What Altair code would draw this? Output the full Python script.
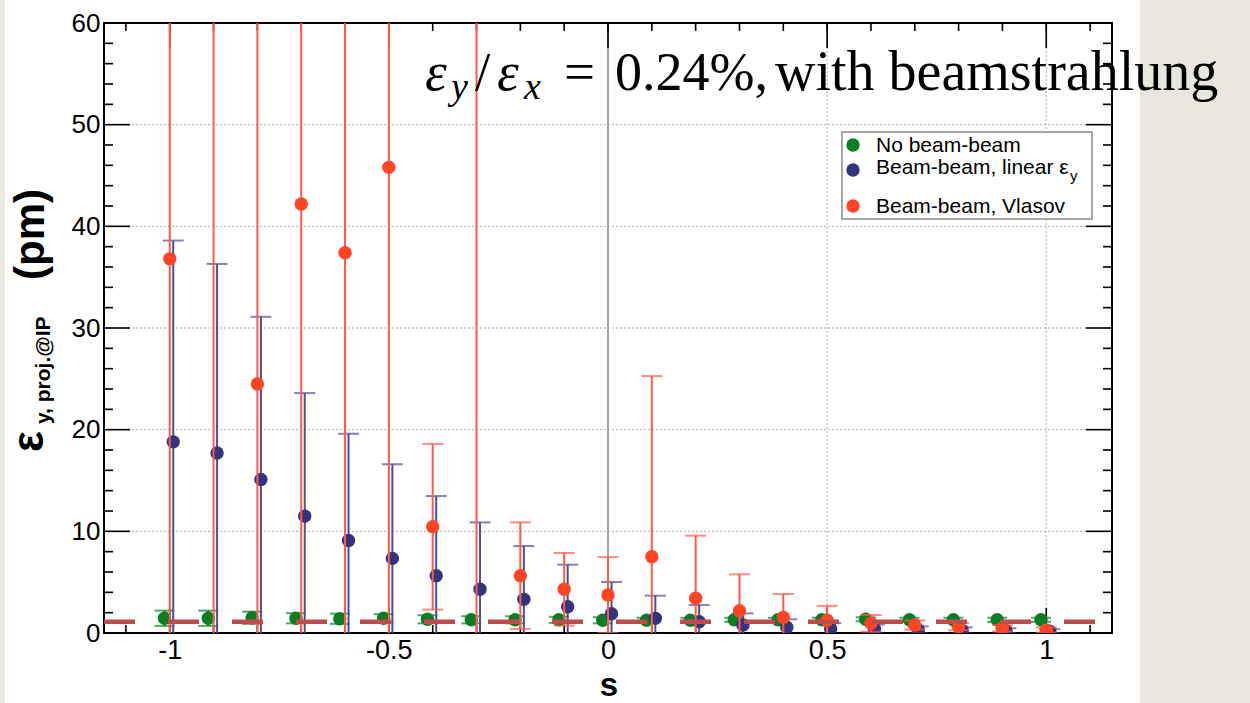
import altair as alt
import pandas as pd

# Chromaticity scan: s values and projected vertical emittance at the IP (pm)
s_values = [-1.0, -0.9, -0.8, -0.7, -0.6, -0.5, -0.4, -0.3, -0.2, -0.1, 0.0,
            0.1, 0.2, 0.3, 0.4, 0.5, 0.6, 0.7, 0.8, 0.9, 1.0]

no_bb = [1.45, 1.45, 1.5, 1.45, 1.4, 1.45, 1.35, 1.3, 1.3, 1.3, 1.25,
         1.25, 1.25, 1.3, 1.3, 1.3, 1.35, 1.3, 1.3, 1.3, 1.3]
no_bb_err = [0.75, 0.75, 0.6, 0.5, 0.5, 0.4, 0.4, 0.35, 0.35, 0.3, 0.3,
             0.25, 0.25, 0.2, 0.2, 0.2, 0.2, 0.2, 0.2, 0.2, 0.2]

linear = [18.8, 17.7, 15.1, 11.5, 9.1, 7.34, 5.64, 4.3, 3.31, 2.59, 1.9,
          1.44, 1.11, 0.79, 0.56, 0.42, 0.38, 0.30, 0.26, 0.22, 0.18]
linear_err = [19.8, 18.6, 16.0, 12.1, 10.5, 9.26, 7.83, 6.58, 5.24, 4.13, 3.11,
              2.23, 1.64, 1.14, 0.79, 0.55, 0.45, 0.35, 0.30, 0.25, 0.20]

vlasov = [36.8, 68.0, 24.5, 42.2, 37.4, 45.8, 10.45, 66.0, 5.64, 4.3, 3.74,
          7.5, 3.41, 2.2, 1.54, 1.25, 0.95, 0.79, 0.62, 0.46, 0.30]
vlasov_err = [45.0, 70.0, 40.0, 48.0, 42.0, 50.0, 8.15, 75.0, 5.24, 3.57, 3.73,
              17.77, 6.16, 3.57, 2.29, 1.42, 0.82, 0.45, 0.35, 0.30, 0.25]

reference_level = 1.1

x_major = [-1.0, -0.5, 0.0, 0.5, 1.0]
x_minor = [-1.1, -1.0, -0.9, -0.8, -0.7, -0.6, -0.5, -0.4, -0.3, -0.2, -0.1, 0.0,
           0.1, 0.2, 0.3, 0.4, 0.5, 0.6, 0.7, 0.8, 0.9, 1.0, 1.1]
y_major = [10, 20, 30, 40, 50]
y_minor = [2, 4, 6, 8, 12, 14, 16, 18, 22, 24, 26, 28, 32, 34, 36, 38,
           42, 44, 46, 48, 52, 54, 56, 58]
y_labels = [0, 10, 20, 30, 40, 50, 60]

W, H = 1008, 610
LEFT, TOP = 104, 23

xs = alt.Scale(domain=[-1.15, 1.15], nice=False, zero=False)
ys = alt.Scale(domain=[0, 60], nice=False, zero=False)
x_axis = alt.Axis(values=x_major, labelExpr="'' + datum.value", title=None,
                  grid=False, ticks=False, domain=False, labelFont="Liberation Sans",
                  labelFontSize=27, labelColor="black", labelPadding=4,
                  labelOverlap=False, labelFlush=False)
y_axis = alt.Axis(values=y_labels, title=None, grid=False, ticks=False, domain=False,
                  labelFont="Liberation Sans", labelFontSize=26, labelColor="black",
                  labelPadding=4, labelOverlap=False)


def X(field="s"):
    return alt.X(f"{field}:Q", scale=xs, axis=x_axis)


def Y(field="v"):
    return alt.Y(f"{field}:Q", scale=ys, axis=y_axis)


def series_layers(vals, errs, dx, dot_color, bar_color, cap):
    df = pd.DataFrame({"s": s_values, "v": vals, "e": errs})
    df["s"] = df["s"] + dx
    df["lo"] = df["v"] - df["e"]
    df["hi"] = df["v"] + df["e"]
    base = alt.Chart(df)
    bars = base.mark_rule(color=bar_color, strokeWidth=2, clip=True).encode(
        x=X(), y=Y("lo"), y2="hi:Q")
    lo_cap = base.mark_tick(color=bar_color, orient="horizontal", size=cap,
                            thickness=2, clip=True).encode(x=X(), y=Y("lo"))
    hi_cap = base.mark_tick(color=bar_color, orient="horizontal", size=cap,
                            thickness=2, clip=True).encode(x=X(), y=Y("hi"))
    dots = base.mark_circle(color=dot_color, size=180, opacity=1, clip=True).encode(
        x=X(), y=Y())
    return [bars, lo_cap, hi_cap, dots]


def text_piece(txt, px, py, size, font="Liberation Sans", baseline="alphabetic", **kw):
    return alt.Chart(pd.DataFrame({"t": [txt]})).mark_text(
        align="left", baseline=baseline, font=font, fontSize=size,
        color="black", **kw).encode(
        x=alt.value(px - LEFT), y=alt.value(py - TOP), text="t:N")


one = pd.DataFrame({"k": [0]})

# slide background strips
paper_right = alt.Chart(one).mark_rect(color="#e9e6df").encode(
    x=alt.value(1140 - LEFT), x2=alt.value(1250 - LEFT + 2),
    y=alt.value(-TOP), y2=alt.value(703 - TOP))
paper_left = alt.Chart(one).mark_rect(color="#ece9e2").encode(
    x=alt.value(-LEFT), x2=alt.value(5 - LEFT),
    y=alt.value(-TOP), y2=alt.value(703 - TOP))

# grid
grid_x = alt.Chart(pd.DataFrame({"s": [-1.0, -0.5, 0.5, 1.0]})).mark_rule(
    color="#ababab", strokeWidth=1, strokeDash=[2, 2]).encode(
    x=X(), y=alt.value(0), y2=alt.value(H))
grid_y = alt.Chart(pd.DataFrame({"v": y_major})).mark_rule(
    color="#ababab", strokeWidth=1, strokeDash=[2, 2]).encode(
    y=Y(), x=alt.value(0), x2=alt.value(W))
zero_line = alt.Chart(pd.DataFrame({"s": [0.0]})).mark_rule(
    color="#a8a8a8", strokeWidth=2).encode(x=X(), y=alt.value(0), y2=alt.value(H))

# inward ticks on all four sides
xmin_df = alt.Chart(pd.DataFrame({"s": x_minor}))
xmaj_df = alt.Chart(pd.DataFrame({"s": x_major}))
ymin_df = alt.Chart(pd.DataFrame({"v": y_minor}))
ymaj_df = alt.Chart(pd.DataFrame({"v": y_major}))
tick_style = dict(color="black", strokeWidth=1.6)
ticks = [
    xmin_df.mark_rule(**tick_style).encode(x=X(), y=alt.value(H), y2=alt.value(H - 8)),
    xmin_df.mark_rule(**tick_style).encode(x=X(), y=alt.value(0), y2=alt.value(8)),
    xmaj_df.mark_rule(**tick_style).encode(x=X(), y=alt.value(H), y2=alt.value(H - 25)),
    xmaj_df.mark_rule(**tick_style).encode(x=X(), y=alt.value(0), y2=alt.value(25)),
    ymin_df.mark_rule(**tick_style).encode(y=Y(), x=alt.value(0), x2=alt.value(9)),
    ymin_df.mark_rule(**tick_style).encode(y=Y(), x=alt.value(W - 9), x2=alt.value(W)),
    ymaj_df.mark_rule(**tick_style).encode(y=Y(), x=alt.value(0), x2=alt.value(26)),
    ymaj_df.mark_rule(**tick_style).encode(y=Y(), x=alt.value(W - 26), x2=alt.value(W)),
]

GREEN, BLUE, BLUE_BAR, RED, RED_BAR = "#0b7d24", "#34347c", "#4e4e96", "#ff4526", "#ff5a48"

green = series_layers(no_bb, no_bb_err, -0.012, GREEN, GREEN, 20)
blue = series_layers(linear, linear_err, 0.008, BLUE, BLUE_BAR, 21)
red = series_layers(vlasov, vlasov_err, 0.0, RED, RED_BAR, 21)

dash = alt.Chart(pd.DataFrame({"v": [reference_level]})).mark_rule(
    color="#bd4d4d", strokeWidth=4.5, strokeDash=[31, 33]).encode(
    y=Y(), x=alt.value(0), x2=alt.value(W))

# legend box
legend_box = alt.Chart(one).mark_rect(fill="white", stroke="#8a8a8a", strokeWidth=1.5).encode(
    x=alt.value(842 - LEFT), x2=alt.value(1092 - LEFT),
    y=alt.value(132 - TOP), y2=alt.value(219 - TOP))


def legend_dot(color, py):
    return alt.Chart(one).mark_circle(color=color, size=180, opacity=1).encode(
        x=alt.value(853 - LEFT), y=alt.value(py - TOP))


legend = [
    legend_box,
    legend_dot(GREEN, 145), legend_dot(BLUE, 170), legend_dot(RED, 206),
    text_piece("No beam-beam", 876, 152, 21),
    text_piece("Beam-beam, linear ε", 876, 174, 21),
    text_piece("y", 1070, 181, 15),
    text_piece("Beam-beam, Vlasov", 876, 213, 21),
]

# formula annotation
SERIF = "Liberation Serif"
note = [
    text_piece("ε", 425, 90, 55, SERIF, fontStyle="italic"),
    text_piece("y", 451, 99, 38, SERIF, fontStyle="italic"),
    text_piece("/", 475, 90, 55, SERIF),
    text_piece("ε", 497, 90, 55, SERIF, fontStyle="italic"),
    text_piece("x", 524, 99, 38, SERIF, fontStyle="italic"),
    text_piece("=", 564, 90, 55, SERIF),
    text_piece("0.24%,", 615, 90, 54, SERIF),
    text_piece("with beamstrahlung", 775, 90, 56, SERIF),
]

# axis titles
titles = [
    text_piece("ε", 43, 452, 44, angle=270, fontWeight="bold"),
    text_piece("y, proj.@IP", 50, 424, 21, angle=270, fontWeight="bold"),
    text_piece("(pm)", 44, 280, 42, angle=270, fontWeight="bold"),
    alt.Chart(pd.DataFrame({"t": ["s"]})).mark_text(
        align="center", baseline="bottom", font="Liberation Sans", fontSize=33,
        fontWeight="bold", color="black").encode(
        x=alt.value(609 - LEFT), y=alt.value(703 - TOP), text="t:N"),
]

layers = ([paper_right, paper_left, grid_x, grid_y, zero_line] + ticks
          + green + blue + red + [dash] + legend + note + titles)

chart = alt.layer(*layers).properties(
    width=W, height=H,
    padding={"left": LEFT, "top": TOP, "right": 1250 - LEFT - W, "bottom": 703 - TOP - H},
    autosize=alt.AutoSizeParams(type="none"),
    background="white",
).configure_view(stroke="black", strokeWidth=2)

chart.save("out.html", embed_options={"renderer": "svg", "actions": False})
